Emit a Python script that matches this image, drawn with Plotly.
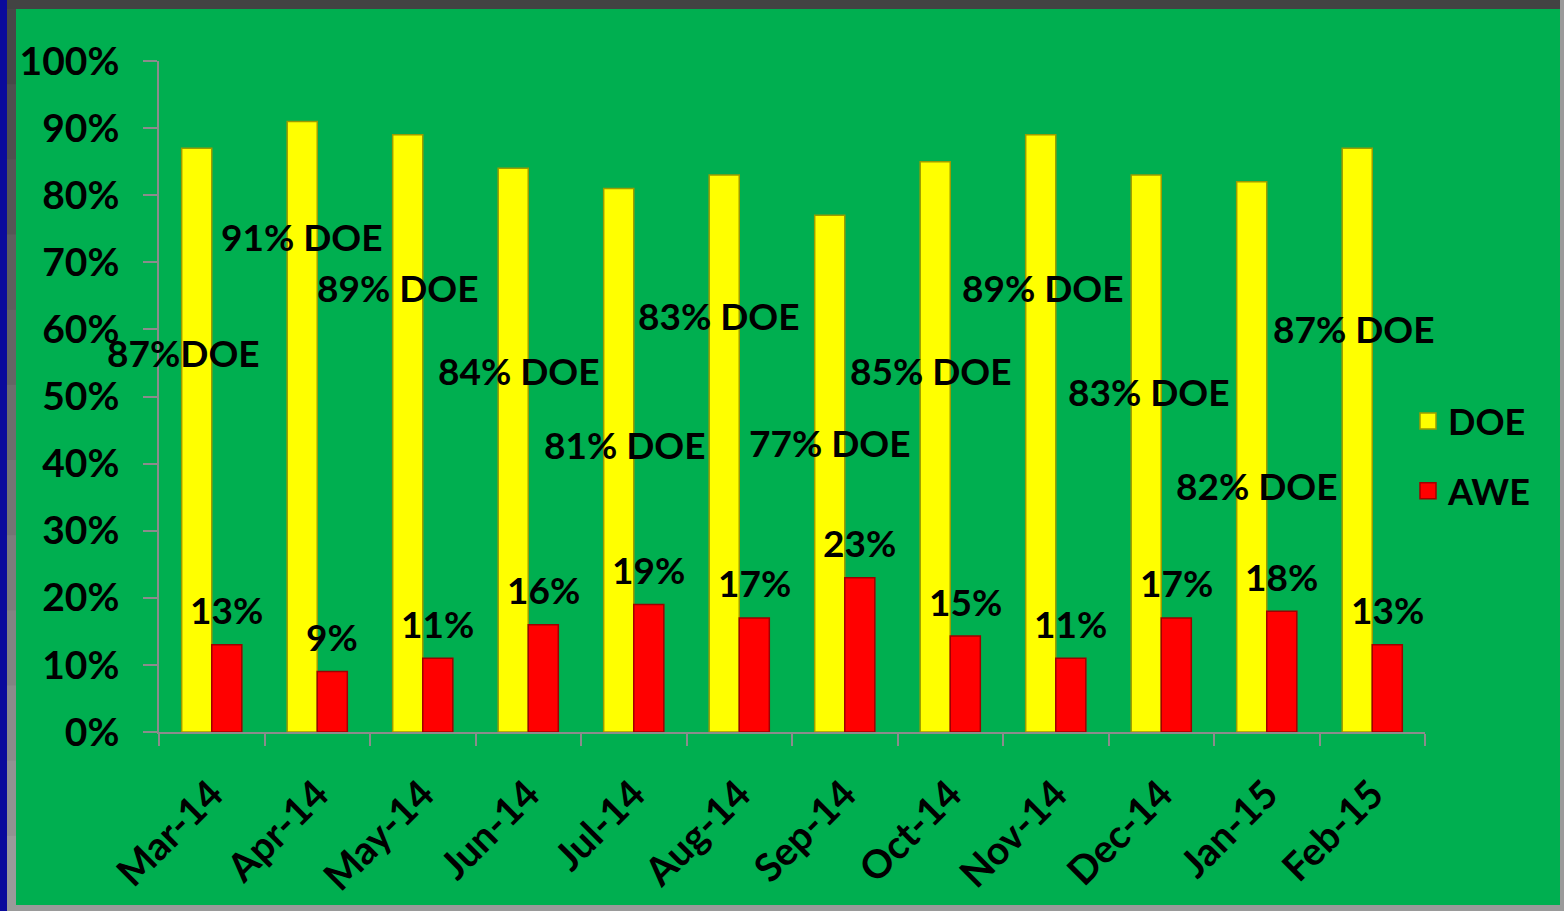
import plotly.graph_objects as go

months = ["Mar-14", "Apr-14", "May-14", "Jun-14", "Jul-14", "Aug-14",
          "Sep-14", "Oct-14", "Nov-14", "Dec-14", "Jan-15", "Feb-15"]
doe = [87, 91, 89, 84, 81, 83, 77, 85, 89, 83, 82, 87]
awe = [13, 9, 11, 16, 19, 17, 23, 14.3, 11, 17, 18, 13]
doe_labels = ["87%DOE", "91% DOE", "89% DOE", "84% DOE", "81% DOE", "83% DOE",
              "77% DOE", "85% DOE", "89% DOE", "83% DOE", "82% DOE", "87% DOE"]
awe_labels = ["13%", "9%", "11%", "16%", "19%", "17%", "23%", "15%", "11%", "17%", "18%", "13%"]

# label placement (positions only)
doe_label_dx = [-0.27, -0.14, -0.23, -0.09, -0.085, -0.19, -0.14, -0.18, -0.12, -0.12, -0.09, -0.17]
doe_label_y = [56.5, 73.8, 66.2, 53.9, 42.8, 62.0, 43.2, 53.9, 66.2, 50.8, 36.8, 60.2]

W, H = 1564, 911
L, R, T, B = 159, 1425, 61, 732
FONT = "Lato"
YELLOW, RED = "#FFFF00", "#FF0000"

def px(xp):
    return (xp - L) / (R - L)

def py(yp):
    return (B - yp) / (B - T)

fig = go.Figure()
fig.add_trace(go.Bar(
    x=months, y=doe, name="DOE", showlegend=False,
    marker=dict(color=YELLOW, line=dict(color="#9C9C00", width=1.5)),
))
fig.add_trace(go.Bar(
    x=months, y=awe, name="AWE", showlegend=False,
    marker=dict(color=RED, line=dict(color="#A00000", width=1.5)),
))
# legend entries with larger square symbols
fig.add_trace(go.Scatter(
    x=[None], y=[None], mode="markers", name="DOE", legendgroup="doe",
    marker=dict(symbol="square", size=22, color=YELLOW, line=dict(color="#9C9C00", width=1.5)),
))
fig.add_trace(go.Scatter(
    x=[None], y=[None], mode="markers", name="AWE", legendgroup="awe",
    marker=dict(symbol="square", size=22, color=RED, line=dict(color="#A00000", width=1.5)),
))

annotations = []
for i, m in enumerate(months):
    annotations.append(dict(
        x=i + doe_label_dx[i], y=doe_label_y[i], xref="x", yref="y",
        text=doe_labels[i], showarrow=False, xanchor="center", yanchor="middle",
        font=dict(family=FONT, size=37, color="black", weight="bold"),
    ))
    annotations.append(dict(
        x=i + 0.142, y=awe[i], xref="x", yref="y",
        text=awe_labels[i], showarrow=False, xanchor="center", yanchor="middle",
        yshift=35,
        font=dict(family=FONT, size=37, color="black", weight="bold"),
    ))

shapes = []
def rect(x0, y0, x1, y1, color):
    shapes.append(dict(type="rect", xref="paper", yref="paper",
                       x0=px(x0), x1=px(x1), y0=py(y0), y1=py(y1),
                       fillcolor=color, line=dict(width=0), layer="above"))

# frame
rect(0, 0, W, 9, "#434343")
rect(1560, 0, W, H, "#9A9A9A")
rect(0, 905, W, H, "#9A9A9A")
n = 12
for k in range(n):
    y0 = 9 + (H - 9) * k / n
    y1 = 9 + (H - 9) * (k + 1) / n + 1
    g = int(0x48 + (0x9A - 0x48) * k / (n - 1))
    rect(7, y0, 16, y1, "#%02X%02X%02X" % (g, g, g))
rect(0, 0, 7, H, "#0A0A9C")

fig.update_layout(
    width=W, height=H,
    margin=dict(l=L, r=W - R, t=T, b=H - B),
    paper_bgcolor="#00AF50", plot_bgcolor="#00AF50",
    barmode="group", bargap=0.43, bargroupgap=0.0,
    font=dict(family=FONT, size=37, color="black", weight="bold"),
    showlegend=True,
    legend=dict(x=px(1408), y=py(456), xanchor="left", yanchor="middle",
                traceorder="grouped", tracegroupgap=20, itemsizing="trace",
                font=dict(family=FONT, size=36, color="black", weight="bold"),
                bgcolor="rgba(0,0,0,0)"),
    annotations=annotations,
    shapes=shapes,
)
fig.update_xaxes(
    type="category", tickangle=-45, showline=True, linecolor="#8C8C8C", linewidth=1.5,
    ticks="outside", tickson="boundaries", ticklen=12, tickcolor="#8C8C8C", tickwidth=1.5,
    showgrid=False, zeroline=False, ticklabelstandoff=22,
    tickfont=dict(family=FONT, size=39, color="black", weight="bold"),
    range=[-0.5, 11.5],
)
fig.update_yaxes(
    range=[0, 100], dtick=10, ticksuffix="%", showline=True, linecolor="#8C8C8C", linewidth=1.5,
    ticks="outside", ticklen=14, tickcolor="#8C8C8C", tickwidth=1.5,
    showgrid=False, zeroline=False, ticklabelstandoff=16,
    tickfont=dict(family=FONT, size=39, color="black", weight="bold"),
)

fig.write_html("out.html", config={"displayModeBar": False},
               post_script="document.body.style.margin='0';document.body.style.overflow='hidden';")
